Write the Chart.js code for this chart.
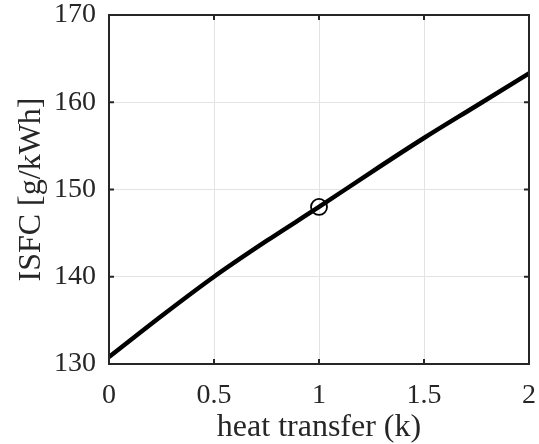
<!DOCTYPE html>
<html>
<head>
<meta charset="utf-8">
<script src="https://cdn.jsdelivr.net/npm/chart.js@4.4.1/dist/chart.umd.min.js"></script>
<style>
  html, body { margin: 0; padding: 0; background: #fff; }
  #wrap { width: 539px; height: 444px; }
</style>
</head>
<body>
<div id="wrap"><canvas id="myChart" width="539" height="444"></canvas></div>
<script>
// Heat transfer multiplier (x) and ISFC values (y)
const heatTransfer = [0, 0.25, 0.5, 0.75, 1, 1.25, 1.5, 1.75, 2];
const isfc = [130.8, 135.5, 140.0, 144.1, 148.0, 152.0, 155.9, 159.6, 163.3];

// Baseline marker
const markerX = [1];
const markerY = [148];

// Ticks
const xTicks = [0, 0.5, 1, 1.5, 2];
const yTicks = [130, 140, 150, 160, 170];

const axisColor = "#262626";
const serif = "'Liberation Serif', 'Times New Roman', serif";

// box around the plot + inward tick marks, MATLAB style
const boxPlugin = {
  id: "box",
  afterDraw(chart) {
    const { ctx, chartArea: a, scales } = chart;
    ctx.save();
    ctx.strokeStyle = axisColor;
    ctx.lineWidth = 2;
    ctx.strokeRect(a.left, a.top, a.right - a.left, a.bottom - a.top);
    ctx.beginPath();
    xTicks.forEach(v => {
      const px = scales.x.getPixelForValue(v);
      ctx.moveTo(px, a.bottom); ctx.lineTo(px, a.bottom - 5);
      ctx.moveTo(px, a.top); ctx.lineTo(px, a.top + 5);
    });
    yTicks.forEach(v => {
      const py = scales.y.getPixelForValue(v);
      ctx.moveTo(a.left, py); ctx.lineTo(a.left + 5, py);
      ctx.moveTo(a.right, py); ctx.lineTo(a.right - 5, py);
    });
    ctx.stroke();
    ctx.restore();
  }
};

const ctx = document.getElementById("myChart").getContext("2d");
const myChart = new Chart(ctx, {
  type: "line",
  data: {
    datasets: [{
      data: heatTransfer.map((x, i) => ({ x: x, y: isfc[i] })),
      borderColor: "#000",
      borderWidth: 4.5,
      pointRadius: 0,
      cubicInterpolationMode: "monotone"
    }, {
      data: markerX.map((x, i) => ({ x: x, y: markerY[i] })),
      showLine: false,
      pointStyle: "circle",
      pointRadius: 8,
      pointBorderWidth: 1.8,
      pointBorderColor: "#000",
      pointBackgroundColor: "rgba(0,0,0,0)"
    }]
  },
  options: {
    responsive: false,
    animation: false,
    layout: { padding: { left: 0, top: 15, right: 10, bottom: 0 } },
    plugins: { legend: { display: false }, tooltip: { enabled: false } },
    scales: {
      x: {
        type: "linear",
        min: 0, max: 2,
        afterBuildTicks: s => { s.ticks = xTicks.map(v => ({ value: v })); },
        afterFit: s => { s.height = 80; s.paddingLeft = 0; s.paddingRight = 0; },
        grid: { color: "#e3e3e3", lineWidth: 1, drawTicks: false },
        border: { display: false },
        ticks: {
          color: axisColor,
          padding: 18,
          maxRotation: 0,
          callback: v => String(v),
          font: { family: serif, size: 28, lineHeight: 1 }
        },
        title: {
          display: true,
          text: "heat transfer (k)",
          color: axisColor,
          padding: { top: 0, bottom: 0 },
          font: { family: serif, size: 32, lineHeight: 1 }
        }
      },
      y: {
        min: 130, max: 170,
        afterBuildTicks: s => { s.ticks = yTicks.map(v => ({ value: v })); },
        afterFit: s => { s.width = 109; s.paddingTop = 0; s.paddingBottom = 0; },
        grid: { color: "#e3e3e3", lineWidth: 1, drawTicks: false },
        border: { display: false },
        ticks: {
          color: axisColor,
          padding: 13,
          font: { family: serif, size: 28, lineHeight: 1 }
        },
        title: {
          display: true,
          text: "ISFC [g/kWh]",
          color: axisColor,
          padding: { top: 16, bottom: 0 },
          font: { family: serif, size: 32, lineHeight: 1 }
        }
      }
    }
  },
  plugins: [boxPlugin]
});
</script>
</body>
</html>
